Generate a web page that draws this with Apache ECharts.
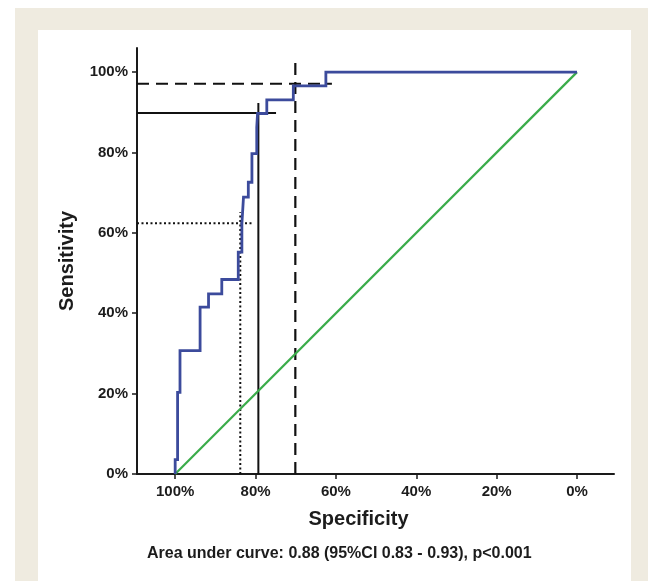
<!DOCTYPE html>
<html><head><meta charset="utf-8">
<script src="https://cdn.jsdelivr.net/npm/echarts@6/dist/echarts.min.js"></script>
<style>html,body{margin:0;padding:0;background:#fff}#c{width:653px;height:581px}</style>
</head><body><div id="c"></div>
<script>
// ---- data ----
const xTicks = [100, 80, 60, 40, 20, 0];
const yTicks = [0, 20, 40, 60, 80, 100];
const xAxisMin = -9.2, xAxisMax = 109.5;
const yAxisMin = 0, yAxisMax = 106;

// ROC curve vertices (specificity %, sensitivity %)
const rocSpecificity = [100, 100, 99.4, 99.4, 98.8, 98.8, 93.8, 93.8, 91.7, 91.7, 88.4, 88.4, 84.3, 84.3, 83.4, 83.4, 83.0, 83.0, 81.8, 81.8, 80.9, 80.9, 79.7, 79.7, 79.5, 79.5, 77.2, 77.2, 70.6, 70.6, 62.5, 62.5, 0];
const rocSensitivity = [0, 3.6, 3.6, 20.3, 20.3, 30.7, 30.7, 41.5, 41.5, 44.8, 44.8, 48.4, 48.4, 55.2, 55.2, 62.2, 62.2, 68.9, 68.9, 72.6, 72.6, 79.7, 79.7, 86.3, 86.3, 89.7, 89.7, 93.1, 93.1, 96.6, 96.6, 100, 100];

// reference (chance) line
const chanceSpecificity = [100, 0];
const chanceSensitivity = [0, 100];

// cut-off markers: dotted, solid, dashed
const cutoffSpecificity = [83.8, 79.3, 70.1];
const cutoffSensitivity = [62.4, 89.8, 97.1];
const cutoffHLineEnd = [80.9, 74.9, 61.0];   // specificity where horizontal guide ends
const cutoffVLineTop = [65.1, 92.3, 102.9];  // sensitivity where vertical guide ends

const xAxisName = 'Specificity';
const yAxisName = 'Sensitivity';
const footnote = 'Area under curve: 0.88 (95%CI 0.83 - 0.93), p<0.001';

// ---- build ----
const zip = (a, b) => a.map((v, i) => [v, b[i]]);
const cutoffStyles = [
  { type: [2, 2.5], width: 2 },
  { type: 'solid', width: 2 },
  { type: [12, 7], width: 2.2 }
];
const font = '"Liberation Sans", Arial, Helvetica, sans-serif';
const txt = '#1c1c1c';

const series = [];
cutoffSpecificity.forEach((s, i) => {
  series.push({
    type: 'line', silent: true, showSymbol: false, z: 3,
    data: [[xAxisMax, cutoffSensitivity[i]], [cutoffHLineEnd[i], cutoffSensitivity[i]]],
    lineStyle: Object.assign({ color: '#111' }, cutoffStyles[i])
  });
  series.push({
    type: 'line', silent: true, showSymbol: false, z: 3,
    data: [[s, yAxisMin], [s, cutoffVLineTop[i]]],
    lineStyle: Object.assign({ color: '#111' }, cutoffStyles[i])
  });
});
series.push({
  type: 'line', silent: true, showSymbol: false, z: 4,
  data: zip(chanceSpecificity, chanceSensitivity),
  lineStyle: { color: '#3aac4a', width: 2.2 }
});
series.push({
  type: 'line', silent: true, showSymbol: false, z: 5,
  data: zip(rocSpecificity, rocSensitivity),
  lineStyle: { color: '#3c4b9c', width: 2.8, join: 'miter' }
});

const chart = echarts.init(document.getElementById('c'), null, { renderer: 'canvas' });
chart.setOption({
  animation: false,
  backgroundColor: '#ffffff',
  graphic: [
    { type: 'rect', z: -100, shape: { x: 15, y: 8, width: 633, height: 580 }, style: { fill: '#efebe0' } },
    { type: 'rect', z: -99, shape: { x: 38, y: 30, width: 593, height: 560 }, style: { fill: '#ffffff' } },
    { type: 'text', z: 10, left: 368 - 221, top: 546,
      style: { text: footnote, font: 'bold 16px ' + font, fill: txt } }
  ],
  grid: { left: 137, right: 39, top: 48, bottom: 107, containLabel: false },
  xAxis: {
    type: 'value', inverse: true, min: xAxisMin, max: xAxisMax,
    name: xAxisName, nameLocation: 'middle', nameGap: 35,
    nameTextStyle: { fontFamily: font, fontWeight: 'bold', fontSize: 20, color: txt, padding: [0, 34, 0, 0] },
    axisLine: { show: true, onZero: false, lineStyle: { color: '#1a1a1a', width: 2 } },
    axisTick: { show: true, length: 5, customValues: xTicks, lineStyle: { color: '#1a1a1a', width: 1.5 } },
    axisLabel: { customValues: xTicks, margin: 10, formatter: '{value}%', fontFamily: font, fontWeight: 'bold', fontSize: 15, color: txt },
    splitLine: { show: false }
  },
  yAxis: {
    type: 'value', min: yAxisMin, max: yAxisMax,
    name: yAxisName, nameLocation: 'middle', nameGap: 60,
    nameTextStyle: { fontFamily: font, fontWeight: 'bold', fontSize: 20, color: txt },
    axisLine: { show: true, onZero: false, lineStyle: { color: '#1a1a1a', width: 2 } },
    axisTick: { show: true, length: 5, customValues: yTicks, lineStyle: { color: '#1a1a1a', width: 1.5 } },
    axisLabel: { customValues: yTicks, margin: 9, formatter: '{value}%', fontFamily: font, fontWeight: 'bold', fontSize: 15, color: txt },
    splitLine: { show: false }
  },
  series: series
});
</script>
</body></html>
